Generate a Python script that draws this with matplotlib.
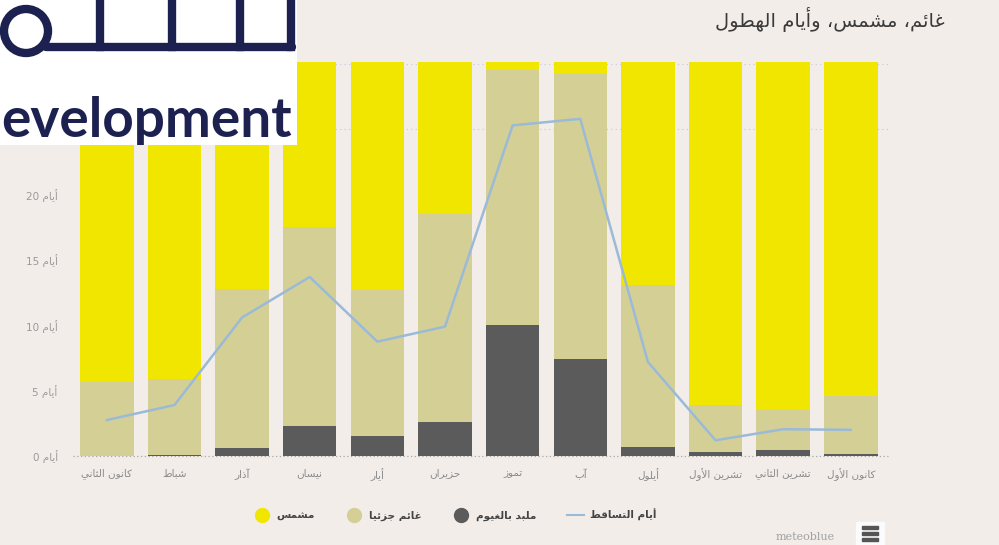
import matplotlib
matplotlib.use("Agg")
import matplotlib.pyplot as plt
from matplotlib.lines import Line2D
from matplotlib.patches import Rectangle, Circle
import numpy as np

# monthly cloud / sun / precipitation days
months = ["كانون الثاني", "شباط", "آذار", "نيسان", "أيار", "حزيران",
          "تموز", "آب", "أيلول", "تشرين الأول", "تشرين الثاني", "كانون الأول"]
overcast = [0.0, 0.1, 0.6, 2.3, 1.5, 2.6, 10.0, 7.4, 0.7, 0.3, 0.45, 0.15]
partly = [5.7, 5.8, 12.2, 15.2, 11.2, 15.9, 19.5, 21.8, 12.4, 3.6, 3.1, 4.45]
sunny = [24.7, 24.5, 17.6, 12.9, 17.7, 11.9, 0.9, 1.2, 17.3, 26.5, 26.85, 25.8]
precip = [2.75, 3.9, 10.6, 13.7, 8.75, 9.9, 25.3, 25.8, 7.2, 1.2, 2.05, 2.0]
yticks = [0, 5, 10, 15, 20]       # 25 and 30 sit under the logo
ygrid = [0, 5, 10, 15, 20, 25, 30]

title = "غائم، مشمس، وأيام الهطول"
day_word = "أيام"
legend_names = ["مشمس", "غائم جزئيا", "ملبد بالغيوم", "أيام التساقط"]

c_sun = "#f1e600"
c_part = "#d4d095"
c_over = "#5b5b5b"
c_line = "#9bbad8"
bg = "#f2ede9"

# minimal arabic shaping -> presentation forms, visual (right-to-left) order
JOIN4 = {'ئ': 0xFE89, 'ب': 0xFE8F, 'ت': 0xFE95, 'ث': 0xFE99, 'ج': 0xFE9D, 'ح': 0xFEA1,
         'خ': 0xFEA5, 'س': 0xFEB1, 'ش': 0xFEB5, 'ص': 0xFEB9, 'ض': 0xFEBD, 'ط': 0xFEC1,
         'ظ': 0xFEC5, 'ع': 0xFEC9, 'غ': 0xFECD, 'ف': 0xFED1, 'ق': 0xFED5, 'ك': 0xFED9,
         'ل': 0xFEDD, 'م': 0xFEE1, 'ن': 0xFEE5, 'ه': 0xFEE9, 'ي': 0xFEF1}
JOIN2 = {'آ': 0xFE81, 'أ': 0xFE83, 'ؤ': 0xFE85, 'إ': 0xFE87, 'ا': 0xFE8D, 'ة': 0xFE93,
         'د': 0xFEA9, 'ذ': 0xFEAB, 'ر': 0xFEAD, 'ز': 0xFEAF, 'و': 0xFEED, 'ى': 0xFEEF}
LAMALEF = {'آ': 0xFEF5, 'أ': 0xFEF7, 'إ': 0xFEF9, 'ا': 0xFEFB}


def ar(s):
    out = []
    n = len(s)
    i = 0
    prev = False
    while i < n:
        c = s[i]
        if c == 'ل' and i + 1 < n and s[i + 1] in LAMALEF:
            out.append(chr(LAMALEF[s[i + 1]] + (1 if prev else 0)))
            prev = False
            i += 2
            continue
        nxt = i + 1 < n and (s[i + 1] in JOIN4 or s[i + 1] in JOIN2)
        if c in JOIN4:
            form = (3 if nxt else 1) if prev else (2 if nxt else 0)
            out.append(chr(JOIN4[c] + form))
            prev = True
        elif c in JOIN2:
            out.append(chr(JOIN2[c] + (1 if prev else 0)))
            prev = False
        else:
            out.append(c)
            prev = False
        i += 1
    return "".join(reversed(out))


plt.rcParams['font.family'] = ['DejaVu Sans']

fig = plt.figure(figsize=(9.99, 5.45), dpi=100, facecolor=bg)
ax = fig.add_axes([73 / 999, 89 / 545, 815 / 999, 394 / 545], facecolor=bg)

x = np.arange(len(months))
w = 0.79
ov = np.array(overcast)
pa = np.array(partly)
ax.bar(x, ov, w, color=c_over, zorder=3)
ax.bar(x, pa, w, bottom=ov, color=c_part, zorder=3)
ax.bar(x, sunny, w, bottom=ov + pa, color=c_sun, zorder=3)
ax.plot(x, precip, color=c_line, lw=1.8, zorder=4)

ax.set_xlim(-0.5, 11.55)
ax.set_ylim(0, 30.15)
ax.set_yticks(yticks)
ax.set_yticklabels([f"{v} " + ar(day_word) for v in yticks], color="#9a9a9a", fontsize=7.5)
ax.set_yticks(ygrid, minor=True)
ax.set_xticks(x)
ax.set_xticklabels([ar(m) for m in months], color="#8a8a8a", fontsize=7.5)
ax.tick_params(axis="y", which="both", length=0, pad=11)
ax.tick_params(axis="x", length=0, pad=9)
for s in ax.spines.values():
    s.set_visible(False)
ax.grid(axis="y", which="minor", color="#c4c8da", lw=0.8, ls=(0, (1, 3)), zorder=1)
ax.axhline(0, color="#a8a8a8", lw=0.9, ls=(0, (1, 2)), zorder=2, clip_on=False)

fig.text(945 / 999, 1 - 20 / 545, ar(title), ha="right", va="center",
         fontsize=14, color="#3a3a3a")

handles = [
    Line2D([], [], ls="", marker="o", ms=10, mfc=c_sun, mec=c_sun),
    Line2D([], [], ls="", marker="o", ms=10, mfc=c_part, mec=c_part),
    Line2D([], [], ls="", marker="o", ms=10, mfc=c_over, mec=c_over),
    Line2D([], [], color=c_line, lw=1.5),
]
leg = fig.legend(handles, [ar(t) for t in legend_names], loc="center",
                 bbox_to_anchor=(455 / 999, 1 - 515 / 545), ncol=4, frameon=False,
                 fontsize=7.5, handlelength=1.6, columnspacing=3.0, handletextpad=0.6)
for t in leg.get_texts():
    t.set_color("#444444")
    t.set_fontweight("bold")

# meteoblue credit + menu icon
fig.text(835 / 999, 1 - 537 / 545, "meteoblue", ha="right", va="center",
         fontsize=8, color="#a0a0a0", family="DejaVu Serif")
fig.patches.append(Rectangle((856 / 999, 0), 28 / 999, 23 / 545,
                             transform=fig.transFigure, color="#fbfbfb", zorder=5))
for yy in (539, 533, 527):
    fig.patches.append(Rectangle((862 / 999, 1 - (yy + 2) / 545), 16 / 999, 3.5 / 545,
                                 transform=fig.transFigure, color="#555555", zorder=6))

# logo overlay in the top-left corner
lg = fig.add_axes([0, 1 - 145 / 545, 297 / 999, 145 / 545], facecolor="white")
lg.set_xlim(0, 297)
lg.set_ylim(145, 0)
lg.axis("off")
lg.add_patch(Rectangle((0, 0), 297, 145, color="white", zorder=0))
navy = "#1d2150"
lg.add_patch(Circle((26, 31), 22, fill=False, ec=navy, lw=6))
lg.plot([46, 292], [47, 47], color=navy, lw=6, solid_capstyle="round")
for vx in (100, 172, 240, 291):
    lg.plot([vx, vx], [-5, 47], color=navy, lw=6, solid_joinstyle="round")
lg.text(1, 137, "evelopment", fontsize=39.5, fontweight="bold", family="Lato",
        color=navy, ha="left", va="baseline", clip_on=True)

fig.savefig("out.png", dpi=100, facecolor=bg)
